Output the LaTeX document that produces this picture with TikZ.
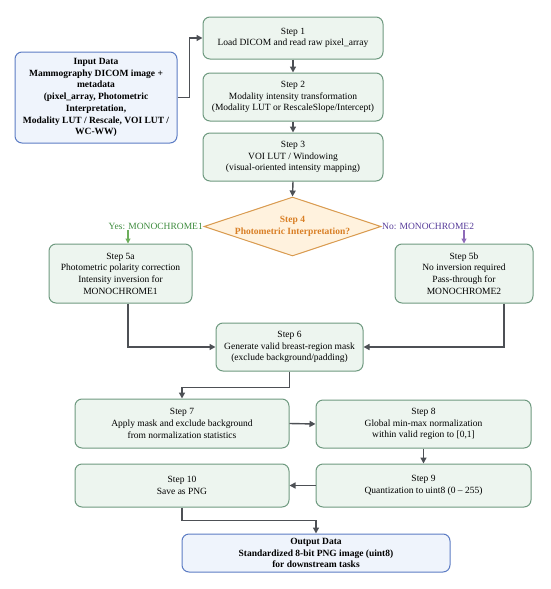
\documentclass[tikz,border=0pt]{standalone}
\usepackage{fontspec}
\setmainfont{Liberation Serif}
\usetikzlibrary{arrows.meta,shapes.geometric}
\definecolor{gfill}{HTML}{EDF5EF}
\definecolor{gborder}{HTML}{6F9A80}
\definecolor{bfill}{HTML}{EFF4FC}
\definecolor{bborder}{HTML}{5C7CC4}
\definecolor{ofill}{HTML}{FFF2DE}
\definecolor{oborder}{HTML}{D99A4E}
\definecolor{otext}{HTML}{D97F25}
\definecolor{arrc}{HTML}{4D5055}
\definecolor{ytext}{HTML}{3D8B3D}
\definecolor{yarr}{HTML}{6DAE5C}
\definecolor{ntext}{HTML}{553A99}
\definecolor{narr}{HTML}{8E6BB8}
\begin{document}
\begin{tikzpicture}[x=1pt,y=-1pt,
  txt/.style={font=\fontsize{9.5}{11.7}\selectfont},
  box/.style={txt, draw=gborder, fill=gfill, rounded corners=7pt, line width=1pt, align=center, inner sep=2pt},
  iobox/.style={box, draw=bborder, fill=bfill, font=\bfseries\fontsize{9.5}{11.7}\selectfont},
  arr/.style={draw=arrc, line width=1.4pt, -{Triangle[length=6pt,width=6pt]}},
  garr/.style={draw=yarr, line width=1.1pt, -{Triangle[length=5pt,width=5pt]}},
  parr/.style={draw=narr, line width=1.1pt, -{Triangle[length=5pt,width=5pt]}},
]
\useasboundingbox (0,0) rectangle (550,589);

\node[iobox, minimum width=162pt, minimum height=91pt] (in) at (96,97.5)
  {Input Data\\Mammography DICOM image +\\metadata\\(pixel\_array, Photometric\\Interpretation,\\Modality LUT / Rescale, VOI LUT /\\WC-WW)};

\node[box, minimum width=180pt, minimum height=42pt] (s1) at (293,38)
  {Step 1\\Load DICOM and read raw pixel\_array};
\node[box, minimum width=180pt, minimum height=48pt] (s2) at (293,97)
  {Step 2\\Modality intensity transformation\\(Modality LUT or RescaleSlope/Intercept)};
\node[box, minimum width=180pt, minimum height=48pt] (s3) at (293,157)
  {Step 3\\VOI LUT / Windowing\\(visual-oriented intensity mapping)};

\node[diamond, draw=oborder, fill=ofill, line width=1pt, inner sep=0pt,
  minimum width=177pt, minimum height=59pt] (d4) at (292.5,226.5) {};
\node[txt, text=otext, align=center, font=\bfseries\fontsize{9.5}{11.7}\selectfont] (d4t) at (d4.center)
  {Step 4\\Photometric Interpretation?};

\node[txt, text=ytext, anchor=east, inner sep=0.5pt] (yes) at (d4.west) {Yes: MONOCHROME1};
\node[txt, text=ntext, anchor=west, inner sep=0.5pt] (no) at (d4.east) {No: MONOCHROME2};

\node[box, minimum width=143pt, minimum height=59pt] (s5a) at (120.5,273.5)
  {Step 5a\\Photometric polarity correction\\Intensity inversion for\\MONOCHROME1};
\node[box, minimum width=138pt, minimum height=59pt] (s5b) at (464,273.5)
  {Step 5b\\No inversion required\\Pass-through for\\MONOCHROME2};

\node[box, minimum width=147pt, minimum height=48pt] (s6) at (289.5,347)
  {Step 6\\Generate valid breast-region mask\\(exclude background/padding)};

\node[box, minimum width=214pt, minimum height=49pt] (s7) at (182,423.5)
  {Step 7\\Apply mask and exclude background\\from normalization statistics};
\node[box, minimum width=215pt, minimum height=48pt] (s8) at (423.5,424)
  {Step 8\\Global min-max normalization\\within valid region to [0,1]};
\node[box, minimum width=215pt, minimum height=43pt] (s9) at (423.5,485.5)
  {Step 9\\Quantization to uint8 (0 -- 255)};
\node[box, minimum width=214pt, minimum height=43pt] (s10) at (182,485.5)
  {Step 10\\Save as PNG};

\node[iobox, minimum width=268pt, minimum height=38pt] (out) at (316,553)
  {Output Data\\Standardized 8-bit PNG image (uint8)\\for downstream tasks};

\coordinate (ga) at (128,0);
\coordinate (pb) at (504,0);

\draw[arr] (in.east) -- ++(12,0) |- (s1.west);
\draw[arr] (s1.south) -- (s2.north);
\draw[arr] (s2.south) -- (s3.north);
\draw[arr] (s3.south) -- (d4.north);
\draw[garr] (yes.south -| ga) -- (s5a.north -| ga);
\draw[parr] (no.south -| s5b.north) -- (s5b.north);
\draw[arr] (s5a.south -| ga) |- (s6.west);
\draw[arr] (s5b.south -| pb) |- (s6.east);
\draw[arr] (s6.south) -- ++(0,16) -| (s7.north);
\draw[arr] (s7.east) -- (s8.west);
\draw[arr] (s8.south) -- (s9.north);
\draw[arr] (s9.west) -- (s10.east);
\draw[arr] (s10.south) -- ++(0,13) -| (out.north);
\end{tikzpicture}
\end{document}
